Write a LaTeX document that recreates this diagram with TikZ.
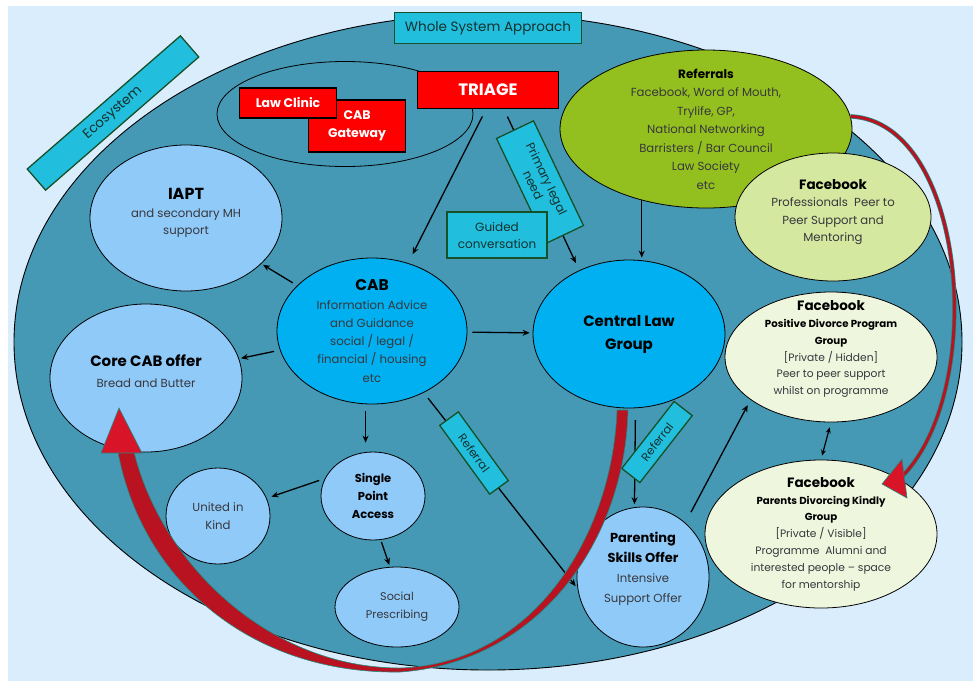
\documentclass[tikz,border=0pt]{standalone}
\usepackage{fontspec}
\setmainfont{Poppins}
\usetikzlibrary{arrows.meta,
                calc,
                positioning,
                shapes.geometric}

\definecolor{pagebg}{RGB}{218,237,253}
\definecolor{sysblue}{RGB}{69,153,181}
\definecolor{boxteal}{RGB}{34,190,222}
\definecolor{boxline}{RGB}{22,80,40}
\definecolor{boxtext}{RGB}{20,50,45}
\definecolor{triagered}{RGB}{255,0,0}
\definecolor{paleblue}{RGB}{144,202,249}
\definecolor{cabblue}{RGB}{0,176,240}
\definecolor{refgreen}{RGB}{147,192,31}
\definecolor{fbgreen}{RGB}{213,232,160}
\definecolor{fbpale}{RGB}{238,246,222}
\definecolor{bodygrey}{RGB}{55,55,60}
\definecolor{bandred}{RGB}{185,18,32}
\definecolor{headred}{RGB}{215,20,40}
\definecolor{bandedge}{RGB}{30,140,130}

\newcommand{\bubhead}[2][13]{{\fontsize{#1}{#1}\selectfont\bfseries\color{black}#2}}
\newcommand{\subhead}[1]{{\fontsize{10.2}{12}\selectfont\bfseries\color{black}#1}}

\tikzset{
  bubble/.style={ellipse, draw=black, line width=0.8pt, inner sep=-30pt,
                 align=center, text=bodygrey,
                 font=\fontsize{11.7}{17.5}\selectfont},
  tagbox/.style={draw=boxline, line width=1.3pt, fill=boxteal, inner sep=0pt,
                 align=center, text=boxtext,
                 font=\fontsize{11.5}{14}\selectfont},
  redbox/.style={draw=black, line width=1.6pt, fill=triagered, inner sep=0pt,
                 align=center, text=white,
                 font=\bfseries\fontsize{12.5}{18}\selectfont},
  link/.style={-{Stealth[length=7pt,width=6pt]}, line width=1.3pt},
}

\begin{document}
\begin{tikzpicture}[x=1pt, y=-1pt]
\useasboundingbox (0,0) rectangle (973,681);
\fill[pagebg] (8,6) rectangle (973,681);
\filldraw[fill=sysblue, draw=black, line width=0.9pt]
  (488,342) ellipse [x radius=474pt, y radius=328pt];

% gateways
\node[ellipse, draw=black, line width=0.8pt,
      minimum width=256pt, minimum height=105pt] (gate) at (345,114) {};
\node[redbox, minimum width=97pt, minimum height=52pt] (cabgw) at (357,126) {CAB\\Gateway};
\node[redbox, minimum width=97pt, minimum height=30pt] (lawclinic) at (288,103) {Law Clinic};
\node[redbox, minimum width=141pt, minimum height=37pt,
      font=\bfseries\fontsize{16.5}{18}\selectfont] (triage) at (488,90) {TRIAGE};

% bubbles
\node[bubble, fill=refgreen, minimum width=292pt, minimum height=158pt,
      font=\fontsize{11.7}{18.5}\selectfont] (ref) at (706,129)
  {\bubhead[12]{Referrals}\\Facebook, Word of Mouth,\\Trylife, GP,\\National Networking\\Barristers / Bar Council\\Law Society\\etc};
\node[bubble, fill=fbgreen, minimum width=196pt, minimum height=128pt] (fbpro) at (833,217)
  {\bubhead[13.5]{Facebook}\\Professionals\ \ Peer to\\Peer Support and\\Mentoring\\[-4pt]\mbox{}};
\node[bubble, fill=paleblue, minimum width=192pt, minimum height=146pt] (iapt) at (186,218)
  {\bubhead[16]{IAPT}\\and secondary MH\\support\\[-5pt]\mbox{}};
\node[bubble, fill=cabblue, minimum width=190pt, minimum height=146pt,
      font=\fontsize{11.7}{18.3}\selectfont] (cab) at (372,331)
  {\bubhead[15.5]{CAB}\\Information Advice\\and Guidance\\social / legal /\\financial / housing\\etc};
\node[bubble, fill=paleblue, minimum width=192pt, minimum height=148pt,
      font=\fontsize{11.7}{21}\selectfont] (core) at (146,378)
  {\bubhead[15]{Core CAB offer}\\Bread and Butter\\[-8pt]\mbox{}};
\node[bubble, fill=cabblue, minimum width=192pt, minimum height=148pt,
      font=\bfseries\fontsize{15}{23}\selectfont, text=black] (clg) at (629,334)
  {Central Law\\Group};
\node[bubble, fill=fbpale, minimum width=212pt, minimum height=130pt,
      font=\fontsize{10.7}{16.8}\selectfont] (fbpos) at (831,357)
  {\bubhead[13.5]{Facebook}\\\subhead{Positive Divorce Program}\\\subhead{Group}\\{[Private / Hidden]}\\Peer to peer support\\whilst on programme\\[2pt]\mbox{}};
\node[bubble, fill=paleblue, minimum width=104pt, minimum height=88pt,
      font=\bfseries\fontsize{11.5}{18}\selectfont, text=black] (spa) at (373,496)
  {Single\\Point\\Access};
\node[bubble, fill=paleblue, minimum width=104pt, minimum height=96pt] (uik) at (218,516)
  {United in\\Kind};
\node[bubble, fill=paleblue, minimum width=124pt, minimum height=80pt,
      font=\fontsize{11.2}{18}\selectfont] (soc) at (397,607)
  {Social\\Prescribing};
\node[bubble, fill=paleblue, minimum width=132pt, minimum height=140pt,
      font=\fontsize{11.7}{20}\selectfont] (pso) at (643,577)
  {\bubhead[13]{Parenting}\\\bubhead[13]{Skills Offer}\\Intensive\\Support Offer\\[0pt]\mbox{}};
\node[bubble, fill=fbpale, minimum width=232pt, minimum height=148pt,
      font=\fontsize{10.7}{16.8}\selectfont] (fbkind) at (821,534)
  {\bubhead[13.5]{Facebook}\\\subhead{Parents Divorcing Kindly}\\\subhead{Group}\\{[Private / Visible]}\\Programme\ \ Alumni and\\interested people – space\\for mentorship};

% arrows
\draw[link, shorten <=8pt, shorten >=10pt] ([xshift=-2pt]triage.south) -- (cab.62);
\draw[link, shorten <=8pt, shorten >=8pt] ([xshift=16pt]triage.south) -- (clg.128);
\draw[link, shorten >=2pt] (ref.-132) -- (ref.-132 |- clg.north);
\draw[link, shorten <=5pt, shorten >=2pt] (cab) -- (iapt);
\draw[link, shorten <=6pt, shorten >=2pt] (cab) -- (core);
\draw[link, shorten <=5pt, shorten >=3pt] (cab) -- (clg);
\draw[link, shorten <=7pt, shorten >=9pt] (cab.-95) -- (cab.-95 |- spa.north);
\draw[link, shorten <=6pt, shorten >=5pt] (spa.160) -- (uik.20);
\draw[link, shorten <=2pt, shorten >=2pt] (spa.-80) -- (soc.100);
\draw[link, shorten <=7pt, shorten >=3pt] (cab.-50) -- (pso.190);
\draw[link, shorten <=12pt, shorten >=3pt] (clg.-85) -- (pso.97);
\draw[link, shorten <=12pt, shorten >=6pt] (pso.52) -- (fbpos.-152);
\draw[{Stealth[length=6pt,width=5pt]}-{Stealth[length=6pt,width=5pt]}, line width=1.2pt,
      shorten <=5pt, shorten >=4pt] (fbpos.south) -- (fbkind.north);

% labels
\node[tagbox, rotate=41, minimum width=203pt, minimum height=28pt,
      font=\fontsize{13.5}{15}\selectfont] (eco) at (113,113) {Ecosystem};
\node[tagbox, minimum width=187pt, minimum height=31pt,
      font=\fontsize{13.5}{15}\selectfont] (wsa) at (488,28) {Whole System Approach};
\node[tagbox, rotate=-64.5, minimum width=116pt, minimum height=41pt,
      font=\fontsize{12}{15}\selectfont] (legal) at (540,182)
  {Primary legal\\need};
\node[tagbox, minimum width=100pt, minimum height=46pt,
      font=\fontsize{12}{17}\selectfont] (guided) at (497,235)
  {Guided\\conversation};
\foreach \cx/\cy/\ang/\nm in {474/453/-54/refa, 657/442/52/refb}
  \node[tagbox, rotate=\ang, minimum width=85pt, minimum height=23pt] (\nm) at (\cx,\cy) {Referral};

% red curved arrows
\filldraw[fill=bandred, draw=bandedge, line width=0.6pt]
  (628,410) .. controls (625,540) and (540,662) .. (400,672)
  .. controls (250,674) and (142,580) .. (118,452)
  -- (134,452)
  .. controls (162,565) and (270,668) .. (400,668)
  .. controls (530,664) and (612,540) .. (617,410) -- cycle;
\filldraw[fill=headred, draw=bandedge, line width=0.6pt]
  (101,453) -- (119,408) -- (142,453) -- cycle;
\draw[draw=bandedge, double=bandred, double distance=3pt, line width=0.7pt]
  (ref.5) .. controls (968,122) and (988,395) .. (fbkind.35);
\filldraw[fill=headred, draw=bandedge, line width=0.6pt]
  (882,484) -- (902,459) -- (907,498) -- cycle;
\end{tikzpicture}
\end{document}
